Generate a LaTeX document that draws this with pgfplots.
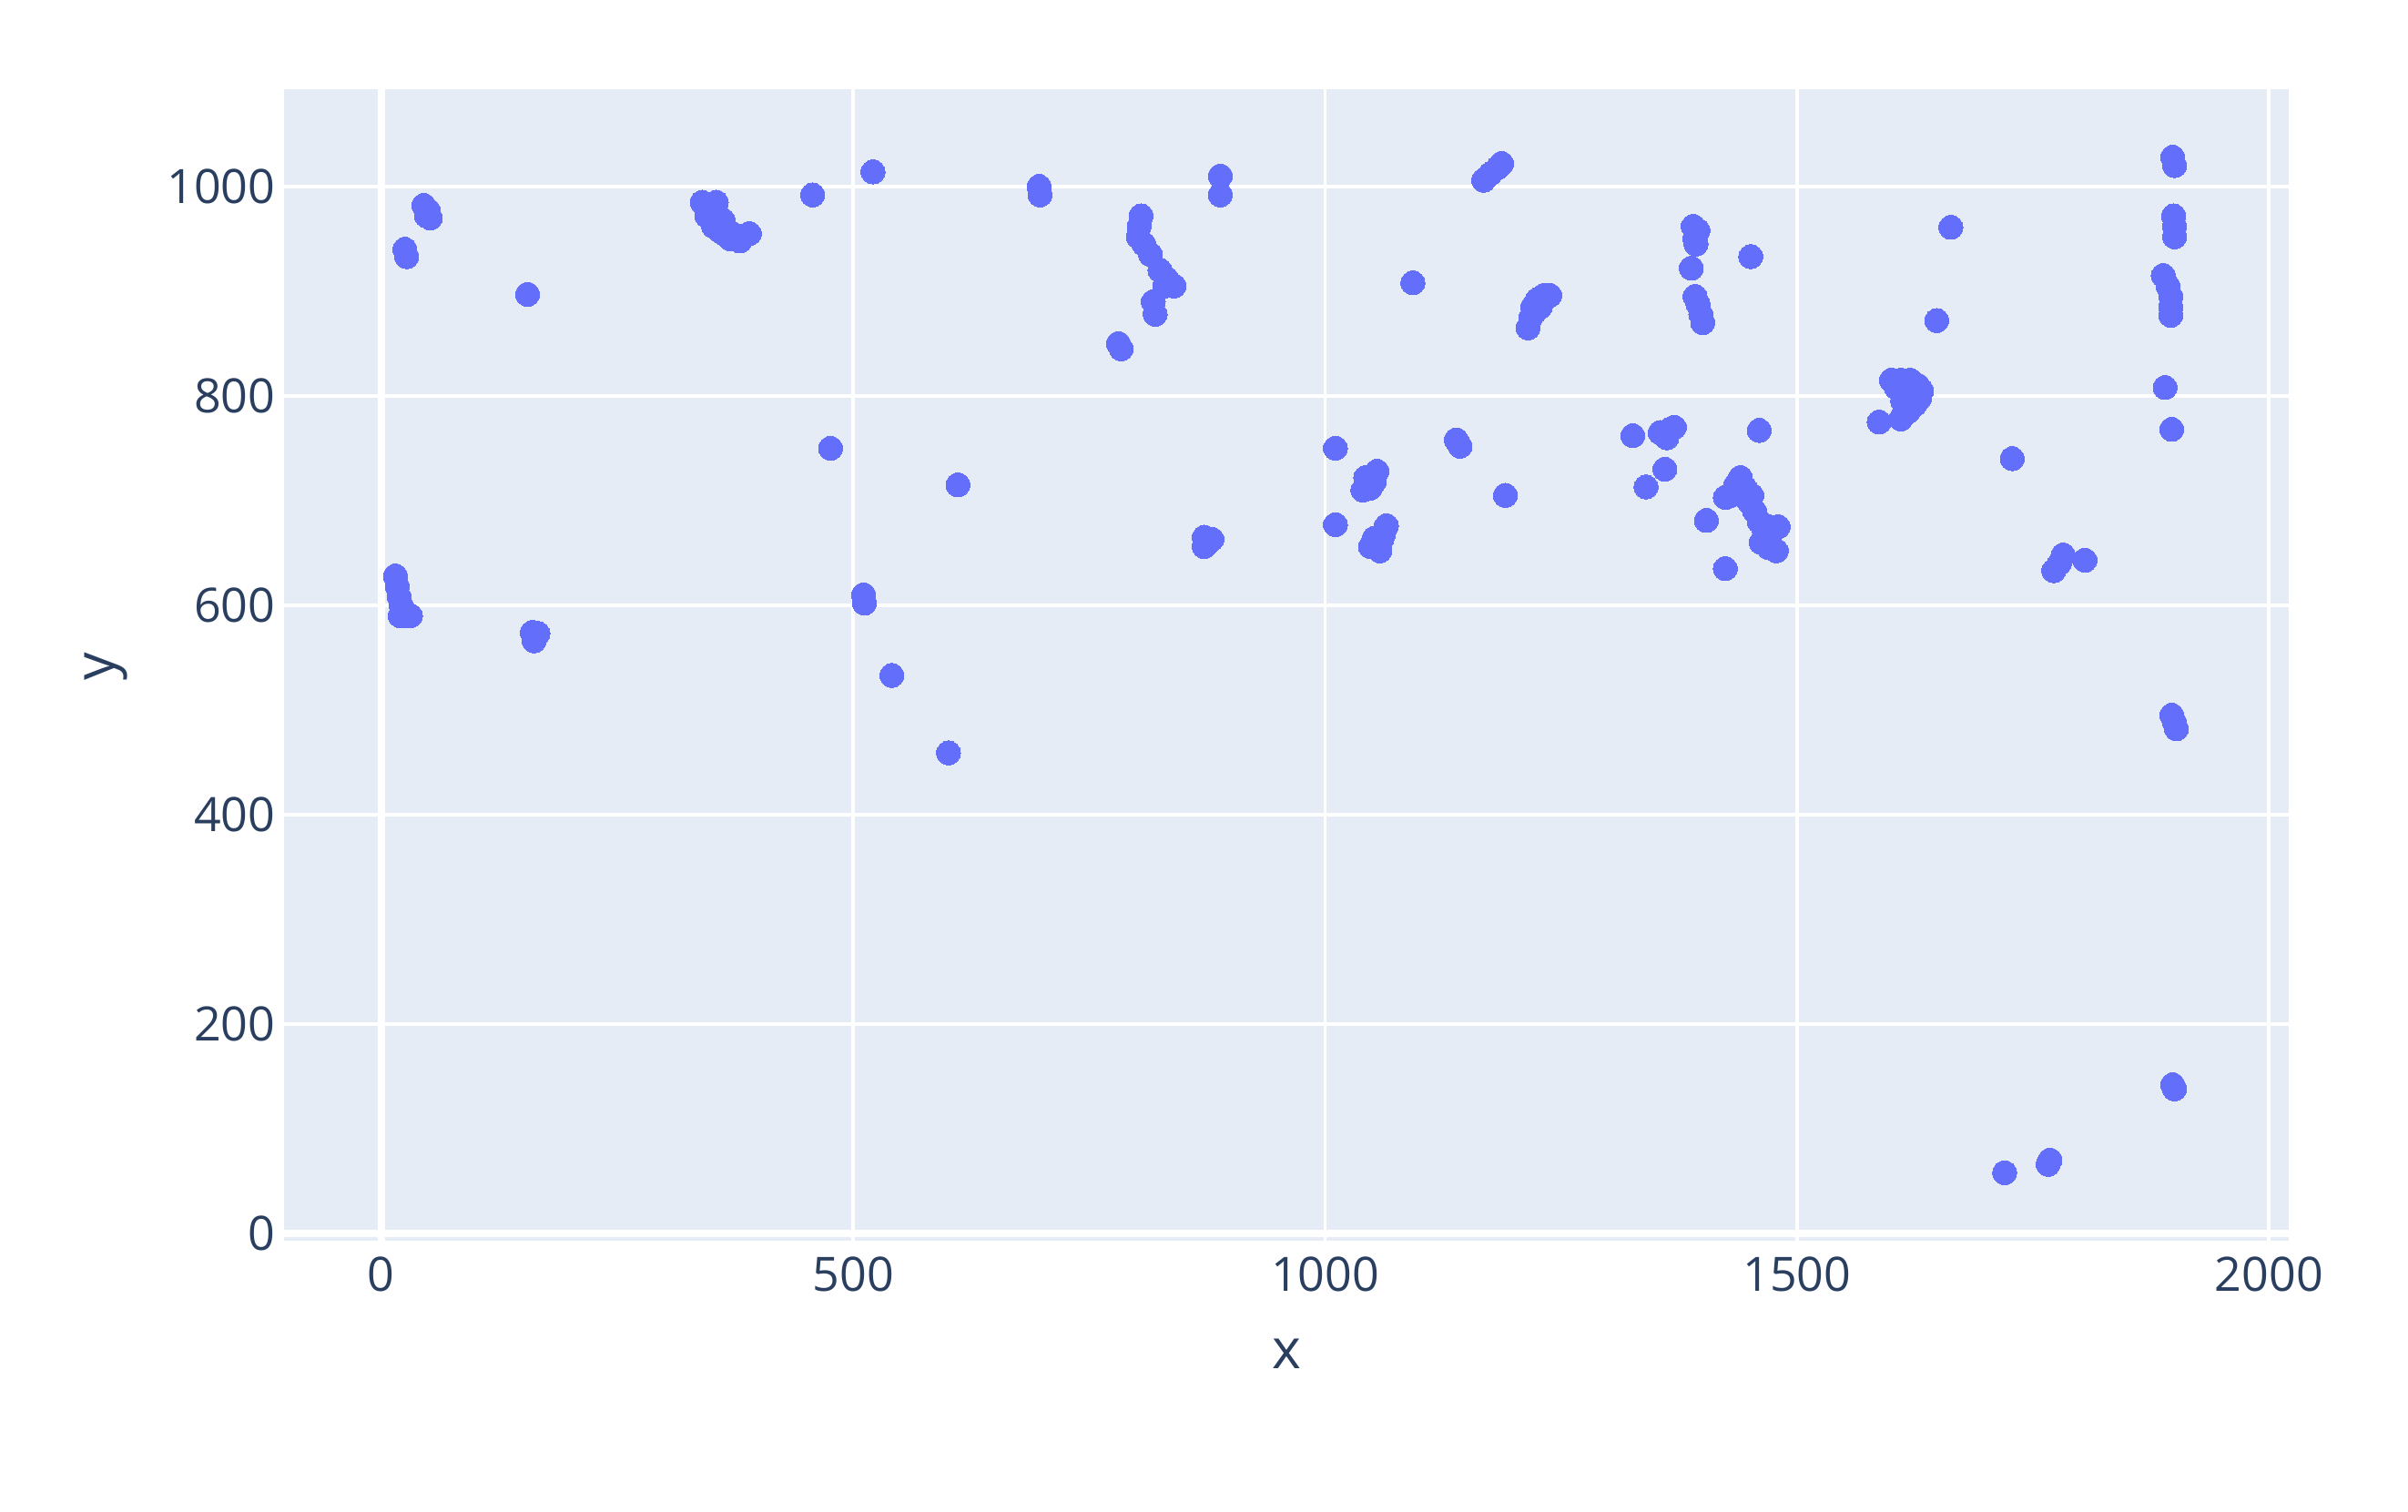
\documentclass[border=0pt]{standalone}
\usepackage{pgfplots}
\pgfplotsset{compat=1.18}
\usepackage{fontspec}
\setmainfont{Open Sans}
\definecolor{plotbg}{HTML}{E5ECF6}
\definecolor{markc}{HTML}{636EFA}
\definecolor{axistext}{HTML}{2A3F5F}
\begin{document}
\begin{tikzpicture}
\path[use as bounding box] (0,0) rectangle (264.5mm,166.1mm);
\begin{axis}[
  at={(31.2mm,29.8mm)}, anchor=south west,
  scale only axis, width=220.2mm, height=126.5mm,
  xmin=-103, xmax=2021, ymin=-7, ymax=1093,
  xtick={0,500,...,2000}, ytick={0,200,...,1000},
  grid=major, major grid style={white, line width=0.38mm},
  extra x ticks={0}, extra y ticks={0},
  extra x tick labels={}, extra y tick labels={},
  extra tick style={grid=major, major grid style={white, line width=0.76mm}},
  axis background/.style={fill=plotbg},
  axis line style={draw=none}, tick style={draw=none},
  /pgf/number format/assume math mode=true,
  /pgf/number format/1000 sep={},
  ticklabel style={font=\fontsize{14.8}{17}\selectfont, text=axistext},
  xticklabel style={anchor=north, inner sep=0pt, yshift=-1.7mm},
  yticklabel style={anchor=east, inner sep=0pt, xshift=-0.9mm},
  xlabel={x}, ylabel={y},
  label style={font=\fontsize{17.3}{20}\selectfont, text=axistext},
  xlabel style={at={(axis description cs:0.5,-0.098)}, anchor=center},
  ylabel style={at={(axis description cs:-0.0886,0.499)}, anchor=center},
]
\addplot[only marks, color=markc, mark=*, mark size=1.32mm, mark options={draw=markc, fill=markc, line width=0pt}] table {
x y
15 628
17 618
19 608
21 600
24 593
28 590
31 590
20 590
25 940
27 933
45 982
50 977
52 970
48 972
155 897
160 574
166 573
162 566
340 985
345 980
350 976
355 970
352 962
358 958
363 955
370 950
378 950
385 953
390 955
362 968
348 970
348 975
356 965
365 960
372 955
380 948
355 985
345 972
457 992
521 1014
476 750
611 715
511 610
512 602
541 533
601 459
697 1000
698 992
889 1010
889 992
781 850
784 845
805 972
803 962
802 952
808 945
815 935
825 920
832 912
840 905
830 905
818 890
820 878
872 665
876 660
880 663
872 656
1011 750
1011 677
1040 710
1045 716
1050 722
1055 728
1048 712
1043 722
1052 718
1048 656
1055 660
1062 668
1065 676
1058 652
1060 663
1052 664
1139 758
1143 752
1093 908
1191 705
1168 1006
1175 1012
1183 1018
1187 1022
1215 865
1218 875
1220 885
1225 892
1232 896
1238 896
1228 885
1222 880
1326 762
1355 765
1362 760
1370 770
1365 768
1360 730
1340 713
1404 681
1424 635
1390 962
1395 958
1392 950
1393 945
1388 922
1392 895
1395 888
1398 878
1400 870
1451 933
1460 767
1430 705
1435 715
1440 722
1445 712
1450 698
1455 690
1460 680
1465 672
1470 675
1462 660
1470 655
1478 652
1480 675
1442 705
1452 705
1424 703
1587 775
1600 815
1610 815
1620 815
1628 810
1632 805
1630 798
1625 792
1618 785
1610 778
1615 805
1620 800
1612 795
1605 808
1648 872
1663 961
1728 740
1772 633
1778 640
1782 648
1805 643
1720 58
1768 70
1766 66
1898 1028
1900 1020
1899 972
1900 962
1900 952
1888 915
1893 905
1896 895
1896 885
1896 877
1890 808
1897 768
1897 495
1900 488
1902 482
1898 142
1900 138
};
\end{axis}
\end{tikzpicture}
\end{document}
